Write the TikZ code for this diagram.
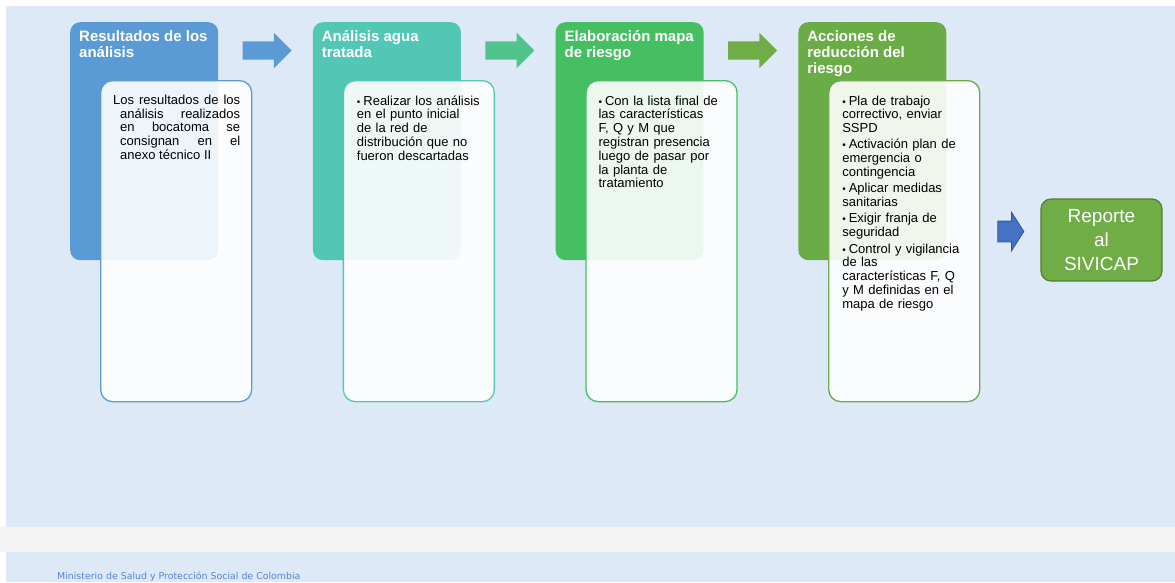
\documentclass[tikz,border=0pt]{standalone}
\usepackage{fontspec}
\setmainfont{Liberation Sans}
\newfontfamily\piefont{DejaVu Sans}
\usetikzlibrary{shapes.arrows,positioning}
\definecolor{fondo}{RGB}{222,233,247}
\definecolor{gris}{RGB}{243,243,243}
\definecolor{pietxt}{RGB}{84,132,212}
\definecolor{col1}{RGB}{91,155,213}
\definecolor{col2}{RGB}{82,199,182}
\definecolor{col3}{RGB}{70,190,98}
\definecolor{col4}{RGB}{106,173,70}
\definecolor{fle2}{RGB}{80,196,140}
\definecolor{fle3}{RGB}{112,173,71}
\definecolor{azulf}{RGB}{68,114,196}
\definecolor{azulb}{RGB}{47,85,151}
\definecolor{verdeb}{RGB}{80,126,50}
\newcommand{\itm}[1]{\par\hangindent=6.5pt\hangafter=1\noindent\rule{0pt}{10.5pt}\makebox[6.5pt][l]{\fontsize{10}{10}\selectfont•}#1}

\tikzset{
cabeza/.style={rectangle, rounded corners=10pt, minimum width=148pt, minimum height=238pt, anchor=north west, inner sep=0pt},
cuerpo/.style={rectangle, rounded corners=12pt, draw, line width=1.3pt, fill=white, fill opacity=0.9, minimum width=151pt, minimum height=321pt, anchor=north west, inner sep=0pt},
titulo/.style={anchor=north west, inner sep=0pt, text=white, align=left, font=\fontsize{15}{16}\selectfont\bfseries, execute at begin node={\rule{0pt}{14pt}}},
texto/.style={anchor=north west, inner sep=0pt, text width=128pt, font=\fontsize{13}{13.8}\selectfont, execute at begin node={\setlength{\parskip}{2.5pt}}},
flecha/.style={single arrow, single arrow tip angle=90, single arrow head extend=8.5pt, inner xsep=0pt, inner ysep=9pt, minimum height=49pt},
flechita/.style={single arrow, single arrow tip angle=115, single arrow head extend=9pt, inner xsep=0pt, inner ysep=10pt, minimum height=26pt, fill=azulf, draw=azulb, line width=0.8pt},
reporte/.style={rectangle, rounded corners=10pt, fill=fle3, draw=verdeb, line width=1.2pt, minimum width=121pt, minimum height=82pt, text=white, align=center, font=\fontsize{19}{24}\selectfont}
}

\begin{document}
\begin{tikzpicture}[x=1pt,y=-1pt]
\useasboundingbox (0,0) rectangle (1175,582);
% fondo
\fill[fondo] (6,6) rectangle (1175,527);
\fill[gris] (0,527) rectangle (1175,552);
\fill[fondo] (6,552) rectangle (1175,582);

% cajas
\foreach \i/\c in {1/col1,2/col2,3/col3,4/col4} {
\node[cabeza, fill=\c] (h\i) at ({70+242.7*(\i-1)},22) {};
\node[cuerpo, draw=\c] (c\i) at ({100+242.7*(\i-1)},80) {};
}
% flechas
\foreach \i/\c in {1/col1,2/fle2,3/fle3} {
\node[flecha, fill=\c] (f\i) at ({262.5+242.7*(\i-1)},50.5) {};
}

\node[titulo] (t1) at ([shift={(9,8.5)}]h1.north west) {Resultados de los\\análisis};
\node[titulo] (t2) at ([shift={(9,8.5)}]h2.north west) {Análisis agua\\tratada};
\node[titulo] (t3) at ([shift={(9,8.5)}]h3.north west) {Elaboración mapa\\de riesgo};
\node[titulo] (t4) at ([shift={(9,8.5)}]h4.north west) {Acciones de\\reducción del\\riesgo};

\node[texto, text width=127pt, align=justify] (x1) at ([shift={(13,13.5)}]c1.north west)
{\hangindent=7pt\hangafter=1\noindent\rule{0pt}{10.5pt}Los resultados de los\linebreak
análisis realizados\linebreak en bocatoma se\linebreak consignan en el\linebreak anexo técnico II\par};
\node[texto, align=left] (x2) at ([shift={(14,8.5)}]c2.north west)
{\itm{Realizar los análisis\\en el punto inicial\\de la red de\\distribución que no\\fueron descartadas}};
\node[texto, align=left] (x3) at ([shift={(13,8.5)}]c3.north west)
{\itm{Con la lista final de\\las características\\F, Q y M que\\registran presencia\\luego de pasar por\\la planta de\\tratamiento}};
\node[texto, align=left] (x4) at ([shift={(14,8.5)}]c4.north west)
{\itm{Pla de trabajo\\correctivo, enviar\\SSPD}
\itm{Activación plan de\\emergencia o\\contingencia}
\itm{Aplicar medidas\\sanitarias}
\itm{Exigir franja de\\seguridad}
\itm{Control y vigilancia\\de las\\características F, Q\\y M definidas en el\\mapa de riesgo}};

\node[flechita] (f4) at (1007.5,231.5) {};
\node[reporte] (rep) at (1101.5,240) {Reporte\\al\\SIVICAP};

\node[anchor=base west, inner sep=0pt, text=pietxt, font=\piefont\fontsize{9.4}{10}\selectfont] (pie) at (57,579.5) {Ministerio de Salud y Protección Social de Colombia};
\end{tikzpicture}
\end{document}
